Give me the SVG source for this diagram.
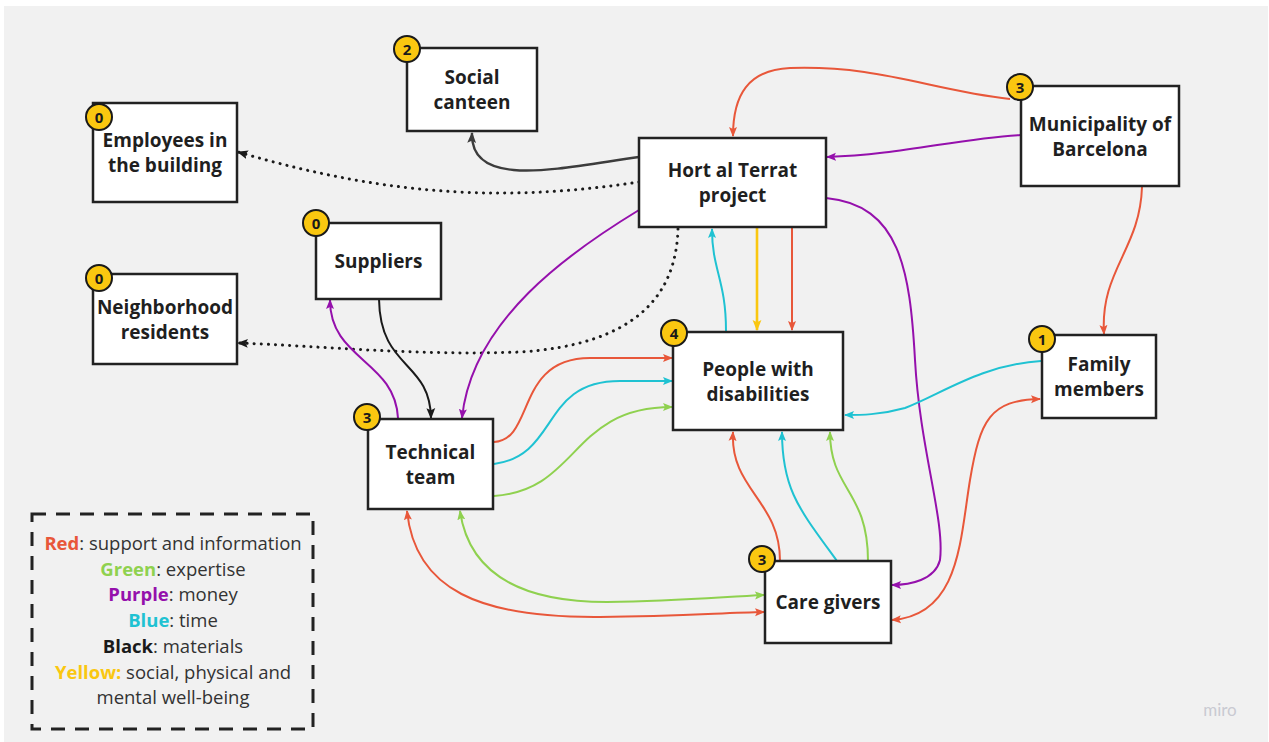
<svg xmlns="http://www.w3.org/2000/svg" width="1269" height="742" viewBox="0 0 1269 742">
<style>
.box{fill:#fff;stroke:#222;stroke-width:2.5}
.lbl{font-family:"Open Sans","Liberation Sans",sans-serif;font-weight:700;font-size:19px;fill:#1f1f1f;text-anchor:middle}
.badge circle{fill:#fac710;stroke:#1a1a1a;stroke-width:2}
.badge text{font-family:"Open Sans","Liberation Sans",sans-serif;font-weight:700;font-size:15px;fill:#1a1a1a;text-anchor:middle}
.e{fill:none;stroke-width:2}
.r{stroke:#e8573a}.g{stroke:#8fd14f}.p{stroke:#9510ac}.c{stroke:#1fc2d2}.y{stroke:#fac710;stroke-width:2.6}.k{stroke:#1a1a1a}.k2{stroke:#3c3c3c;stroke-width:2.4}
.dot{stroke:#1a1a1a;stroke-width:3;stroke-dasharray:0.1 7;stroke-linecap:round}
.leg{font-family:"Open Sans","Liberation Sans",sans-serif;font-size:18.5px;fill:#333;text-anchor:middle}
.leg .b{font-weight:700}
</style>
<defs>
<marker id="mr" viewBox="0 0 10 10" refX="9" refY="5" markerWidth="10" markerHeight="10" markerUnits="userSpaceOnUse" orient="auto-start-reverse"><path d="M0,1 L10,5 L0,9 L2,5 z" fill="#e8573a"/></marker>
<marker id="mg" viewBox="0 0 10 10" refX="9" refY="5" markerWidth="10" markerHeight="10" markerUnits="userSpaceOnUse" orient="auto-start-reverse"><path d="M0,1 L10,5 L0,9 L2,5 z" fill="#8fd14f"/></marker>
<marker id="mp" viewBox="0 0 10 10" refX="9" refY="5" markerWidth="10" markerHeight="10" markerUnits="userSpaceOnUse" orient="auto-start-reverse"><path d="M0,1 L10,5 L0,9 L2,5 z" fill="#9510ac"/></marker>
<marker id="mc" viewBox="0 0 10 10" refX="9" refY="5" markerWidth="10" markerHeight="10" markerUnits="userSpaceOnUse" orient="auto-start-reverse"><path d="M0,1 L10,5 L0,9 L2,5 z" fill="#1fc2d2"/></marker>
<marker id="my" viewBox="0 0 10 10" refX="9" refY="5" markerWidth="11" markerHeight="11" markerUnits="userSpaceOnUse" orient="auto-start-reverse"><path d="M0,1 L10,5 L0,9 L2,5 z" fill="#fac710"/></marker>
<marker id="mk" viewBox="0 0 10 10" refX="9" refY="5" markerWidth="11" markerHeight="11" markerUnits="userSpaceOnUse" orient="auto-start-reverse"><path d="M0,1 L10,5 L0,9 L2,5 z" fill="#1a1a1a"/></marker>
<marker id="mk2" viewBox="0 0 10 10" refX="9" refY="5" markerWidth="11" markerHeight="11" markerUnits="userSpaceOnUse" orient="auto-start-reverse"><path d="M0,1 L10,5 L0,9 L2,5 z" fill="#3c3c3c"/></marker>
</defs>
<rect x="0" y="0" width="1269" height="742" fill="#fff"/>
<rect x="4" y="6" width="1264" height="736" fill="#f1f1f1"/>

<g id="connectors">
<path class="e k2" d="M639,157 C560,168 470,190 472,133" marker-end="url(#mk2)"/>
<path class="e dot" d="M639,182 C520,200 400,200 238,152" marker-end="url(#mk)"/>
<path class="e dot" d="M678,229 C676,300 630,345 520,352 C420,356 320,346 238,343" marker-end="url(#mk)"/>
<path class="e k" d="M379,299 C380,370 430,360 431,418" marker-end="url(#mk)"/>
<path class="e r" d="M1010,99 C930,90 880,65 790,68 C748,70 733,95 733,136" marker-end="url(#mr)"/>
<path class="e r" d="M1142,187 C1140,250 1100,270 1104,334" marker-end="url(#mr)"/>
<path class="e r" d="M792,228 L792,330" marker-end="url(#mr)"/>
<path class="e r" d="M494,442 C535,440 515,358 590,358 L672,358" marker-end="url(#mr)"/>
<path class="e r" d="M892,620 C960,615 960,540 970,480 C980,420 990,400 1040,399" marker-start="url(#mr)" marker-end="url(#mr)"/>
<path class="e r" d="M780,561 C780,500 730,490 733,432" marker-end="url(#mr)"/>
<path class="e r" d="M407,511 C415,590 480,618 600,617 C680,616 720,613 764,612" marker-start="url(#mr)" marker-end="url(#mr)"/>
<path class="e g" d="M494,496 C580,490 570,407 672,407" marker-end="url(#mg)"/>
<path class="e g" d="M868,561 C868,490 830,490 830,432" marker-end="url(#mg)"/>
<path class="e g" d="M460,511 C470,580 530,602 607,602 C680,601 720,597 764,595" marker-start="url(#mg)" marker-end="url(#mg)"/>
<path class="e p" d="M1021,135 C960,138 900,155 827,157" marker-end="url(#mp)"/>
<path class="e p" d="M826,198 C900,205 910,270 915,360 C920,450 945,520 940,560 C935,580 910,585 892,585" marker-end="url(#mp)"/>
<path class="e p" d="M639,210 C570,252 472,320 462,418" marker-end="url(#mp)"/>
<path class="e p" d="M398,418 C395,360 330,360 330,300" marker-end="url(#mp)"/>
<path class="e c" d="M726,331 C726,280 712,270 712,229" marker-end="url(#mc)"/>
<path class="e c" d="M494,464 C560,455 540,381 620,381 L672,381" marker-end="url(#mc)"/>
<path class="e c" d="M1041,361 C980,365 940,395 905,408 C880,415 860,415 845,415" marker-end="url(#mc)"/>
<path class="e c" d="M837,561 C800,510 782,490 782,432" marker-end="url(#mc)"/>
<path class="e y" d="M757,228 L757,330" marker-end="url(#my)"/>
</g>

<g id="social-canteen">
<rect class="box" x="407" y="48" width="130" height="83"/>
<text class="lbl" x="472" y="84">Social</text>
<text class="lbl" x="472" y="109">canteen</text>
<g class="badge"><circle cx="407" cy="49" r="13"/><text x="407" y="54.5">2</text></g>
</g>

<g id="employees">
<rect class="box" x="93" y="103" width="144" height="99"/>
<text class="lbl" x="165" y="147">Employees in</text>
<text class="lbl" x="165" y="172">the building</text>
<g class="badge"><circle cx="99" cy="117" r="13"/><text x="99" y="122.5">0</text></g>
</g>

<g id="hort">
<rect class="box" x="639" y="138" width="187" height="89"/>
<text class="lbl" x="732.5" y="177">Hort al Terrat</text>
<text class="lbl" x="732.5" y="202">project</text>
</g>

<g id="municipality">
<rect class="box" x="1021" y="86" width="158" height="100"/>
<text class="lbl" x="1100" y="130.5">Municipality of</text>
<text class="lbl" x="1100" y="155.5">Barcelona</text>
<g class="badge"><circle cx="1020" cy="87" r="13"/><text x="1020" y="92.5">3</text></g>
</g>

<g id="suppliers">
<rect class="box" x="316" y="223" width="125" height="76"/>
<text class="lbl" x="378.5" y="268">Suppliers</text>
<g class="badge"><circle cx="316" cy="223" r="13"/><text x="316" y="228.5">0</text></g>
</g>

<g id="neighborhood">
<rect class="box" x="93" y="274" width="144" height="90"/>
<text class="lbl" x="165" y="313.5">Neighborhood</text>
<text class="lbl" x="165" y="338.5">residents</text>
<g class="badge"><circle cx="99" cy="278" r="13"/><text x="99" y="283.5">0</text></g>
</g>

<g id="people">
<rect class="box" x="673" y="332" width="170" height="98"/>
<text class="lbl" x="758" y="375.5">People with</text>
<text class="lbl" x="758" y="400.5">disabilities</text>
<g class="badge"><circle cx="674" cy="333" r="13"/><text x="674" y="338.5">4</text></g>
</g>

<g id="family">
<rect class="box" x="1042" y="335" width="114" height="83"/>
<text class="lbl" x="1099" y="371">Family</text>
<text class="lbl" x="1099" y="396">members</text>
<g class="badge"><circle cx="1042" cy="339" r="13"/><text x="1042" y="344.5">1</text></g>
</g>

<g id="technical">
<rect class="box" x="368" y="419" width="125" height="90"/>
<text class="lbl" x="430.5" y="458.5">Technical</text>
<text class="lbl" x="430.5" y="483.5">team</text>
<g class="badge"><circle cx="367" cy="417" r="13"/><text x="367" y="422.5">3</text></g>
</g>

<g id="caregivers">
<rect class="box" x="765" y="561" width="126" height="82"/>
<text class="lbl" x="828" y="609">Care givers</text>
<g class="badge"><circle cx="762" cy="559" r="13"/><text x="762" y="564.5">3</text></g>
</g>

<g id="legend">
<rect x="32" y="514" width="281" height="215" fill="none" stroke="#222" stroke-width="3" stroke-dasharray="14 10"/>
<text class="leg" x="173" y="550"><tspan class="b" fill="#e8573a">Red</tspan>: support and information</text>
<text class="leg" x="173" y="576"><tspan class="b" fill="#8fd14f">Green</tspan>: expertise</text>
<text class="leg" x="173" y="601"><tspan class="b" fill="#9510ac">Purple</tspan>: money</text>
<text class="leg" x="173" y="627"><tspan class="b" fill="#1fc2d2">Blue</tspan>: time</text>
<text class="leg" x="173" y="653"><tspan class="b" fill="#1a1a1a">Black</tspan>: materials</text>
<text class="leg" x="173" y="679"><tspan class="b" fill="#fac710">Yellow:</tspan> social, physical and</text>
<text class="leg" x="173" y="704">mental well-being</text>
</g>

<text x="1220" y="716" font-family="Lato,'Open Sans',sans-serif" font-size="17" fill="#c9cad2" text-anchor="middle">miro</text>
</svg>
